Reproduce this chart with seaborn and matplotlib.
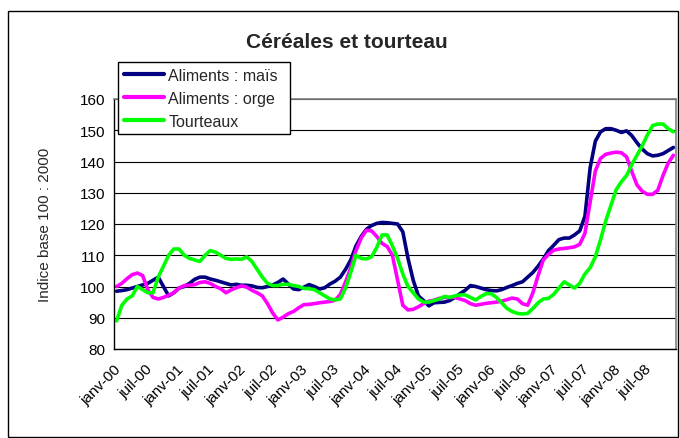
import pandas as pd
import matplotlib.pyplot as plt
import seaborn as sns
from matplotlib.patches import Rectangle

# monthly series, janv-00 .. déc-08 (index 100 = 2000)
mais = [98.5, 98.7, 99.0, 99.5, 100.0, 100.5, 101.0, 102.0, 103.0, 100.0, 97.0, 98.0,
        99.5, 100.0, 101.0, 102.3, 103.0, 103.0, 102.4, 102.0, 101.5, 101.0, 100.5, 100.7,
        100.4, 100.4, 100.2, 99.7, 99.6, 100.0, 100.5, 101.3, 102.4, 100.8, 99.2, 99.0,
        99.8, 100.6, 100.0, 99.2, 99.6, 100.8, 101.7, 103.0, 105.5, 108.5, 113.0, 116.0,
        118.3, 119.5, 120.2, 120.5, 120.4, 120.2, 120.0, 117.5, 109.0, 102.0, 97.0, 95.5,
        93.8, 94.8, 94.9, 95.0, 95.5, 96.5, 97.7, 98.8, 100.3, 100.0, 99.5, 99.0,
        98.7, 98.6, 99.0, 99.7, 100.3, 101.0, 101.5, 103.0, 104.5, 106.5, 108.8, 111.5,
        113.2, 115.0, 115.5, 115.5, 116.5, 117.8, 122.5, 138.0, 146.5, 149.5, 150.5, 150.5,
        150.0, 149.3, 149.8, 148.3, 146.0, 144.0, 142.5, 141.8, 142.0, 142.5, 143.5, 144.5]

orge = [100.0, 101.0, 102.5, 103.8, 104.3, 103.5, 99.0, 96.5, 96.0, 96.5, 97.2, 98.0,
        99.5, 100.3, 100.4, 100.6, 101.3, 101.5, 101.0, 100.0, 99.3, 98.0, 98.9, 99.6,
        100.2, 99.8, 98.8, 98.0, 97.0, 94.5, 91.5, 89.3, 90.2, 91.3, 92.0, 93.2,
        94.2, 94.3, 94.5, 94.8, 95.0, 95.2, 95.6, 97.5, 101.5, 106.0, 111.5, 115.5,
        118.0, 117.8, 116.0, 113.8, 112.8, 110.0, 102.0, 94.0, 92.5, 92.7, 93.5, 94.5,
        95.3, 95.6, 96.2, 96.5, 96.5, 96.5, 96.0, 95.5, 94.5, 94.0, 94.3, 94.6,
        94.8, 95.0, 95.3, 95.8, 96.3, 96.0, 94.5, 94.0, 98.0, 103.5, 108.5, 110.3,
        111.6, 112.0, 112.2, 112.4, 112.7, 113.5, 117.0, 127.0, 137.0, 141.0, 142.3, 142.7,
        143.0, 142.8, 141.5, 136.8, 132.5, 130.5, 129.5, 129.5, 130.8, 135.5, 139.5, 142.0]

tourteaux = [89.0, 94.0, 96.0, 97.0, 100.0, 99.0, 98.0, 98.0, 103.0, 106.5, 110.0, 112.0,
             112.0, 110.0, 109.0, 108.5, 108.0, 110.0, 111.5, 111.0, 110.0, 109.0, 108.7, 108.8,
             108.7, 109.5, 108.0, 105.5, 103.0, 101.0, 100.3, 100.3, 100.7, 100.7, 100.3, 100.0,
             99.4, 99.3, 99.0, 98.0, 97.0, 96.0, 95.7, 96.0, 99.5, 104.5, 110.0, 109.0,
             108.8, 109.5, 112.5, 116.5, 116.5, 113.0, 109.0, 104.0, 100.0, 98.0, 96.0, 95.0,
             95.0, 95.5, 96.0, 96.8, 96.5, 97.0, 97.3, 97.3, 96.5, 95.7, 96.8, 97.7,
             97.7, 96.5, 94.8, 93.0, 92.0, 91.4, 91.2, 91.4, 93.0, 94.8, 96.0, 96.2,
             97.5, 99.5, 101.5, 100.5, 99.5, 101.0, 104.0, 106.0, 109.5, 115.0, 121.0, 126.0,
             131.0, 133.5, 135.5, 139.0, 142.0, 145.0, 148.5, 151.5, 152.0, 152.0, 150.5, 149.5]

tick_labels = ['janv-00', 'juil-00', 'janv-01', 'juil-01', 'janv-02', 'juil-02',
               'janv-03', 'juil-03', 'janv-04', 'juil-04', 'janv-05', 'juil-05',
               'janv-06', 'juil-06', 'janv-07', 'juil-07', 'janv-08', 'juil-08']

series = {'Aliments : maïs': mais, 'Aliments : orge': orge, 'Tourteaux': tourteaux}
colors = {'Aliments : maïs': '#000080', 'Aliments : orge': '#FF00FF', 'Tourteaux': '#00FF00'}

df = pd.concat([pd.DataFrame({'mois': range(len(v)), 'indice': v, 'serie': k})
                for k, v in series.items()], ignore_index=True)

sns.set_style("white")
plt.rcParams['font.family'] = ['Liberation Sans', 'DejaVu Sans']

fig = plt.figure(figsize=(6.8, 4.39), dpi=100)
ax = fig.add_axes([114 / 680, 1 - 350 / 439, 562 / 680, 250 / 439])

sns.lineplot(data=df, x='mois', y='indice', hue='serie', palette=colors,
             linewidth=2.6, ax=ax, legend=False)

n = len(mais)
ax.set_xlim(-0.5, n - 0.5)
ax.set_ylim(80, 160)
ax.set_yticks(range(80, 161, 10))
ax.yaxis.grid(True, color='black', linewidth=0.8)
ax.set_axisbelow(True)

ticks = [-0.5 + 6 * k for k in range(len(tick_labels) + 1)]
ax.set_xticks(ticks)
ax.set_xticklabels(tick_labels + [''], rotation=45, ha='right', va='top',
                   rotation_mode='anchor')
ax.tick_params(axis='both', direction='out', length=4, width=0.8, colors='black',
               labelsize=11, pad=2)
ax.tick_params(axis='x', pad=5)
ax.set_xlabel('')
ax.set_ylabel('')

for s in ['left', 'bottom']:
    ax.spines[s].set_color('black')
    ax.spines[s].set_linewidth(1)
for s in ['top', 'right']:
    ax.spines[s].set_color('#808080')
    ax.spines[s].set_linewidth(1.2)

handles = [plt.Line2D([], [], color=c, linewidth=3) for c in colors.values()]
leg = fig.legend(handles, list(colors.keys()), loc='upper left', mode='expand',
                 bbox_to_anchor=(118 / 680, 1 - 133 / 439, 172 / 680, 70 / 439),
                 bbox_transform=fig.transFigure,
                 frameon=True, fancybox=False, edgecolor='black', framealpha=1,
                 fontsize=11.5, handlelength=2.5, handletextpad=0.3, labelspacing=0.5,
                 borderpad=0.35, borderaxespad=0)
leg.get_frame().set_linewidth(1)

fig.text(347 / 680, 1 - 42 / 439, 'Céréales et tourteau', ha='center', va='center',
         fontsize=15, fontweight='bold')
fig.text(45 / 680, 1 - 225 / 439, 'Indice base 100 : 2000', ha='center', va='center',
         rotation=90, fontsize=11)

fig.patches.append(Rectangle((8 / 680, 1 / 439), 670 / 680, 426 / 439,
                             transform=fig.transFigure, fill=False,
                             edgecolor='black', linewidth=1))

fig.savefig('out.png', dpi=100)
plt.close(fig)
